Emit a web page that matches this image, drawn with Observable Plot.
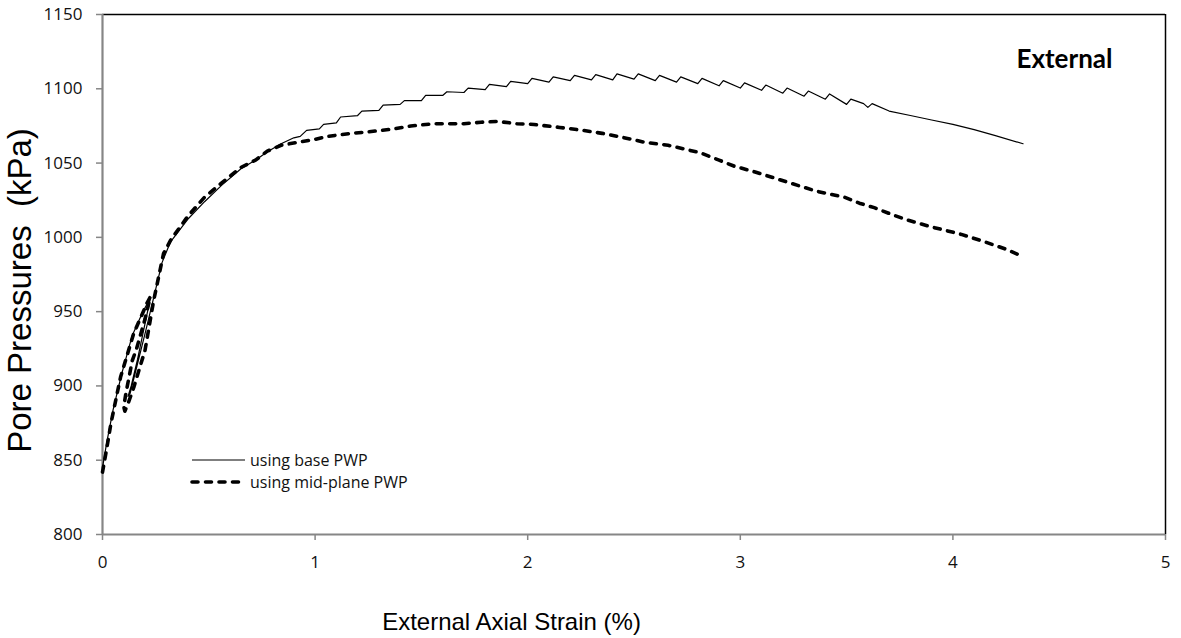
<!DOCTYPE html>
<html>
<head>
<meta charset="utf-8">
<script src="https://cdn.jsdelivr.net/npm/d3@7"></script>
<script src="https://cdn.jsdelivr.net/npm/@observablehq/plot@0.6"></script>
<style>
  body { margin: 0; background: #fff; }
</style>
</head>
<body>
<div id="chart"></div>
<script>
// Pore pressure against external axial strain, measured at the base and at mid-plane.
const baseStrain = [0, 0.02, 0.05, 0.09, 0.14, 0.19, 0.225, 0.2, 0.165, 0.135, 0.12, 0.13, 0.165, 0.205, 0.245, 0.28, 0.32, 0.4, 0.48, 0.56, 0.65, 0.72, 0.78, 0.84, 0.9,
  0.93, 0.96, 1.02, 1.04, 1.10, 1.12, 1.2, 1.22, 1.3, 1.32, 1.4, 1.42, 1.5, 1.52, 1.6, 1.62, 1.7, 1.72, 1.8, 1.82, 1.9, 1.92, 2.0, 2.02,
  2.1, 2.12, 2.2, 2.22, 2.3, 2.32, 2.4, 2.42, 2.5, 2.52, 2.6, 2.62, 2.7, 2.72, 2.8, 2.82, 2.9, 2.92, 3.0, 3.02, 3.1, 3.12, 3.2, 3.22,
  3.3, 3.32, 3.4, 3.42, 3.5, 3.52, 3.58, 3.6, 3.62, 3.7, 3.8, 3.9, 4.0, 4.1, 4.2, 4.33];
const basePwp = [845, 862, 884, 908, 934, 950, 959, 942, 918, 900, 893, 895, 915, 938, 962, 983, 997, 1012, 1024, 1035, 1046, 1052, 1058, 1063, 1067,
  1068, 1072, 1073, 1076, 1077, 1081, 1082, 1085, 1085.5, 1089, 1089.5, 1092, 1092, 1095.5, 1095.5, 1098, 1097.5, 1100.5, 1099.5, 1103, 1101.5, 1105, 1103.5, 1107,
  1104.5, 1108, 1105.5, 1109, 1106, 1109.5, 1106, 1110, 1106.5, 1110, 1105.5, 1109, 1104.5, 1108, 1103.5, 1107, 1102, 1105.5, 1100.5, 1104, 1099, 1102.5, 1097, 1100.5,
  1095, 1098.5, 1093, 1096.5, 1089.5, 1093, 1090, 1087.5, 1090, 1085, 1082, 1079, 1076, 1072.5, 1068.5, 1063];

const midStrain = [0, 0.02, 0.04, 0.085, 0.146, 0.21, 0.225, 0.2, 0.16, 0.14, 0.11, 0.1, 0.105, 0.12, 0.147, 0.2, 0.24, 0.287, 0.32, 0.4, 0.48, 0.555, 0.65, 0.72, 0.775, 0.84, 0.92,
  1.0, 1.06, 1.17, 1.25, 1.37, 1.45, 1.56, 1.7, 1.78, 1.86, 1.95, 2.03, 2.15, 2.26, 2.35, 2.44, 2.55, 2.66, 2.75, 2.81, 2.9, 2.97, 3.07, 3.17,
  3.27, 3.36, 3.49, 3.56, 3.63, 3.72, 3.79, 3.9, 4.04, 4.15, 4.25, 4.33];
const midPwp = [842, 858, 875, 906, 935, 956, 960, 945, 925, 917, 895, 886, 883, 888, 899, 924, 957, 989, 998, 1014, 1027, 1036, 1047, 1052, 1058, 1062, 1064,
  1066, 1068, 1070, 1071, 1073, 1075, 1076.5, 1076.5, 1077.5, 1078, 1076.5, 1076, 1074, 1072, 1070, 1067.5, 1064, 1062, 1059, 1057, 1052, 1048, 1044, 1039.5,
  1035, 1031, 1027, 1023, 1020, 1015, 1011.5, 1007, 1002, 997, 992, 987];

const xTicks = [0, 1, 2, 3, 4, 5];
const yTicks = [800, 850, 900, 950, 1000, 1050, 1100, 1150];
const seriesNames = ["using base PWP", "using mid-plane PWP"];
const panelLabel = "External";
const xTitle = "External Axial Strain (%)";
const yTitle = "Pore Pressures  (kPa)";

const base = baseStrain.map((x, i) => ({x, y: basePwp[i]}));
const mid = midStrain.map((x, i) => ({x, y: midPwp[i]}));

const axisGray = "#868686";
const tickFont = "'Open Sans', 'Noto Sans', sans-serif";
const labelFont = "Lato, 'Open Sans', sans-serif";
const titleFont = "'Liberation Sans', Arial, sans-serif";

// Line styles shared by the curves and their legend samples
const styles = [
  {strokeWidth: 1.2, dash: null, cap: "butt"},
  {strokeWidth: 3.6, dash: "6,7.5", cap: "round"}
];

// Legend drawn inside the lower-left of the frame
function legend(index, scales, values, dims) {
  const g = d3.create("svg:g").attr("text-anchor", "start");
  const x0 = dims.marginLeft + 90, len = 53, y0 = dims.height - dims.marginBottom - 74, step = 22;
  seriesNames.forEach((name, i) => {
    const s = styles[i];
    const y = y0 + i * step;
    g.append("line")
      .attr("x1", x0).attr("x2", x0 + len).attr("y1", y).attr("y2", y)
      .attr("stroke", "black").attr("stroke-width", s.strokeWidth)
      .attr("stroke-linecap", s.cap)
      .attr("stroke-dasharray", s.dash);
    g.append("text")
      .attr("x", x0 + len + 5).attr("y", y).attr("dy", "0.35em")
      .attr("text-anchor", "start")
      .attr("font-family", tickFont).attr("font-size", 16).attr("fill", "#111")
      .text(name);
  });
  return g.node();
}

const chart = Plot.plot({
  width: 1181,
  height: 638,
  marginLeft: 102,
  marginRight: 16,
  marginTop: 14,
  marginBottom: 104,
  style: {background: "#fff", fontFamily: tickFont},
  x: {domain: [0, 5]},
  y: {domain: [800, 1150]},
  marks: [
    // frame: black top and right, gray axes
    Plot.ruleY([1150], {stroke: "black", strokeWidth: 1.5}),
    Plot.ruleX([5], {stroke: "black", strokeWidth: 1.5}),
    Plot.axisY({ticks: yTicks, tickSize: 6, tickPadding: 14, stroke: axisGray, strokeWidth: 1.5, fontSize: 17, fill: "#111", label: null, tickFormat: d => String(d)}),
    Plot.axisX({ticks: xTicks, tickSize: 6, tickPadding: 15, stroke: axisGray, strokeWidth: 1.5, fontSize: 17, fill: "#111", label: null, tickFormat: d => String(d)}),
    Plot.ruleX([0], {stroke: axisGray, strokeWidth: 2.2}),
    Plot.ruleY([800], {stroke: axisGray, strokeWidth: 2.2}),
    // curves
    Plot.line(base, {x: "x", y: "y", stroke: "black", strokeWidth: styles[0].strokeWidth, curve: "linear"}),
    Plot.line(mid, {x: "x", y: "y", stroke: "black", strokeWidth: styles[1].strokeWidth, strokeDasharray: styles[1].dash, strokeLinecap: styles[1].cap, curve: "linear"}),
    // panel label
    Plot.text([panelLabel], {frameAnchor: "top-right", dx: -53, dy: 35, text: d => d, fontSize: 26, fontWeight: "bold", fill: "#000", fontFamily: labelFont, textAnchor: "end"}),
    // axis titles
    Plot.text([xTitle], {frameAnchor: "bottom-left", dx: 409, dy: 95, text: d => d, fontSize: 24, fill: "#000", fontFamily: titleFont, textAnchor: "middle"}),
    Plot.text([yTitle], {frameAnchor: "left", dx: -82, dy: 16, rotate: -90, text: d => d, fontSize: 33, fill: "#000", fontFamily: titleFont, textAnchor: "middle"}),
    legend
  ]
});

document.getElementById("chart").appendChild(chart);
</script>
</body>
</html>
